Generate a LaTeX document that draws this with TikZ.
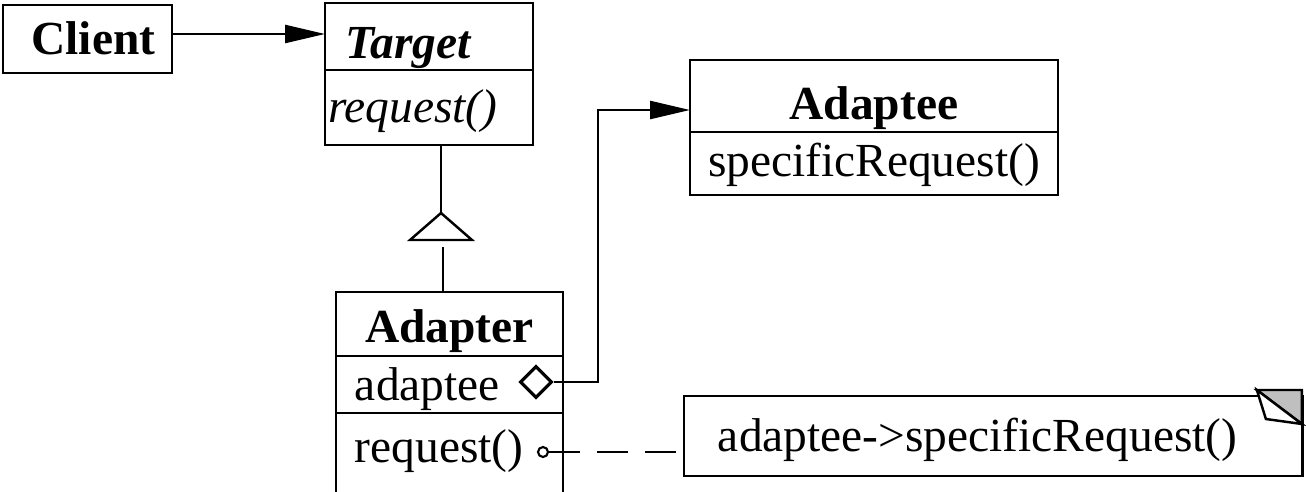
\documentclass[tikz,border=0pt]{standalone}
\usepackage{fontspec}
\setmainfont{Liberation Serif}
\usetikzlibrary{shapes.geometric,arrows.meta}

\tikzset{
  umlbox/.style={draw, line width=1.6pt, anchor=north west, inner ysep=0pt, outer sep=0pt, text depth=0pt},
  link/.style={line width=1.4pt},
  assoc/.style={link, -{Triangle[length=0.8cm,width=0.36cm]}},
}

\begin{document}
\begin{tikzpicture}[x=0.02cm,y=-0.02cm,font=\fontsize{27}{32}\selectfont]
  \useasboundingbox (0,0) rectangle (1306,491);
  % classes
  \node[umlbox, inner xsep=0pt, text width=3.38cm, minimum height=1.36cm, text height=0.64cm, align=center] (client) at (3,5) {\hspace*{0.24cm}\textbf{Client}};
  \node[umlbox, inner xsep=0.42cm, text width=3.32cm, minimum height=1.34cm, text height=0.9cm, align=left] (targetname) at (325,3) {\textbf{\textit{Target}}};
  \node[umlbox, inner xsep=0.06cm, text width=4.04cm, minimum height=1.5cm, text height=0.62cm, align=left] (targetops) at (targetname.south west) {\textit{request()}};
  \node[umlbox, inner xsep=0pt, text width=7.36cm, minimum height=1.44cm, text height=0.96cm, align=center] (adapteename) at (690,60) {\textbf{Adaptee}};
  \node[umlbox, inner xsep=0pt, text width=7.36cm, minimum height=1.26cm, text height=0.54cm, align=center] (adapteeops) at (adapteename.south west) {specificRequest()};
  \node[umlbox, inner xsep=0pt, text width=4.54cm, minimum height=1.28cm, text height=0.76cm, align=center] (adaptername) at (336,292) {\textbf{Adapter}};
  \node[umlbox, inner xsep=0.38cm, text width=3.78cm, minimum height=1.14cm, text height=0.64cm, align=left] (adapterattr) at (adaptername.south west) {adaptee};
  \node[umlbox, inner xsep=0.38cm, text width=3.78cm, minimum height=1.64cm, text height=0.36cm, align=left] (adapterops) at (adapterattr.south west) {request()};
  % note
  \node[umlbox, inner xsep=0.68cm, text width=11.02cm, minimum height=1.6cm, text height=0.64cm, align=left] (note) at (684,396) {adaptee->specificRequest()};
  \begin{scope}[shift={(note.north east)}]
    \filldraw[link, fill=gray!50] (-46,-6) -- (-1,-6) -- (-1,28) -- cycle;
    \filldraw[link, fill=white] (-46,-6) -- (-37,23) -- (-1,28) -- cycle;
  \end{scope}
  % ends
  \node[diamond, draw, line width=1.8pt, minimum width=0.64cm, minimum height=0.64cm, inner sep=0pt] (holder) at (536,382) {};
  \node[circle, draw, line width=1.2pt, minimum size=0.2cm, inner sep=0pt] (implements) at (543,452) {};
  % connectors
  \draw[assoc] ([yshift=0.1cm]client.east) -- ([yshift=0.1cm]client.east -| targetname.west);
  \coordinate (genapex) at (441,213);
  \draw[link] (targetops.south -| genapex) -- (genapex);
  \draw[link] (genapex) -- ++(-31,27) -- ++(62,0) -- cycle;
  \coordinate (genfoot) at (443,247);
  \draw[link] (genfoot) -- (genfoot |- adaptername.north);
  \coordinate (bend) at (598,110);
  \draw[assoc] (holder.east) -| (bend) -- (bend -| adapteename.west);
  \draw[link, dash pattern=on 0.62cm off 0.34cm] (implements.east) -- (implements.east -| note.west);
\end{tikzpicture}
\end{document}
